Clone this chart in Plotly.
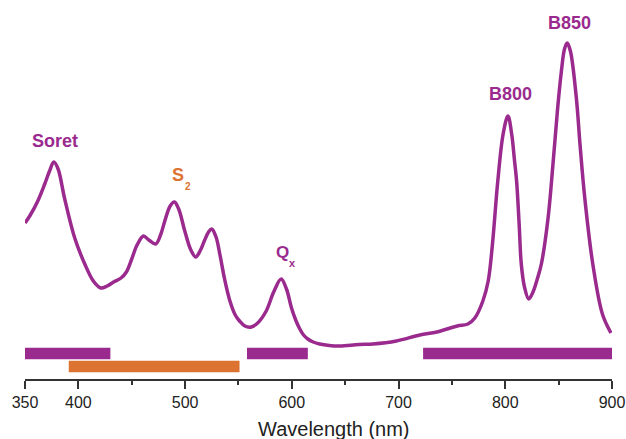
import plotly.graph_objects as go

# Absorption spectrum (wavelength nm, absorbance a.u.)
wavelength = [350, 355, 362, 368.5, 373, 377, 381, 387, 396.6, 406, 414, 421, 427, 433, 440,
              445, 450, 455, 461, 466, 472.5, 477, 481, 486, 490, 494, 499.7, 505, 510, 514,
              518, 522, 525, 529, 532.5, 537, 542, 547, 551, 556, 562, 568, 576, 583, 590,
              595, 599.7, 604, 607.5, 611, 615, 620, 626, 635, 645, 663, 676, 698, 720, 736,
              755, 765, 771.5, 779, 784, 788, 793, 798, 802.5, 806, 808.5, 810.6, 813, 815,
              818, 822, 826, 830, 833.8, 840, 844.7, 849, 852.6, 855.5, 858, 861, 866.6, 870,
              874.5, 882, 891, 899]
absorbance = [1.56, 1.64, 1.78, 1.95, 2.08, 2.17, 2.10, 1.81, 1.41, 1.15, 0.98, 0.91, 0.93, 0.97, 1.01,
              1.07, 1.20, 1.34, 1.43, 1.39, 1.35, 1.44, 1.58, 1.73, 1.77, 1.70, 1.48, 1.30, 1.22, 1.28,
              1.38, 1.47, 1.50, 1.42, 1.25, 1.00, 0.78, 0.64, 0.58, 0.53, 0.52, 0.56, 0.68, 0.87, 1.00,
              0.90, 0.71, 0.58, 0.50, 0.44, 0.40, 0.37, 0.35, 0.335, 0.33, 0.345, 0.35, 0.38, 0.44, 0.47,
              0.53, 0.55, 0.61, 0.78, 0.98, 1.35, 1.98, 2.45, 2.63, 2.45, 2.20, 1.98, 1.55, 1.15,
              0.92, 0.80, 0.87, 1.00, 1.15, 1.60, 2.15, 2.70, 3.08, 3.30, 3.36, 3.28, 2.81, 2.35,
              1.81, 1.15, 0.65, 0.46]

# Excitation ranges (nm)
purple_start = [350, 558, 723]
purple_end = [430, 615, 900]
orange_start = [391]
orange_end = [551]

tick_vals = [350, 400, 500, 600, 700, 800, 900]
x_title = "Wavelength (nm)"

PURPLE = "#9A2A8E"
ORANGE = "#DD7330"

fig = go.Figure()
fig.add_trace(go.Scatter(x=wavelength, y=absorbance, mode="lines",
                         line=dict(color=PURPLE, width=3.5, shape="spline", smoothing=1.0),
                         hoverinfo="skip"))
fig.add_trace(go.Bar(orientation="h",
                     base=purple_start,
                     x=[e - s for s, e in zip(purple_start, purple_end)],
                     y=[0.255] * len(purple_start), width=0.115,
                     marker=dict(color=PURPLE, line=dict(width=0))))
fig.add_trace(go.Bar(orientation="h",
                     base=orange_start,
                     x=[e - s for s, e in zip(orange_start, orange_end)],
                     y=[0.125] * len(orange_start), width=0.115,
                     marker=dict(color=ORANGE, line=dict(width=0))))

font_main = "Liberation Sans, Arial, sans-serif"
labels = [
    ("<b>Soret</b>", 378.1, 2.377, PURPLE, 18),
    ("<b>S</b>", 493.1, 2.04, ORANGE, 18),
    ("<b>2</b>", 502.9, 1.93, ORANGE, 10),
    ("<b>Q</b>", 591.2, 1.263, PURPLE, 17),
    ("<b>x</b>", 600.6, 1.163, PURPLE, 11),
    ("<b>B800</b>", 804.7, 2.85, PURPLE, 18),
    ("<b>B850</b>", 859.8, 3.563, PURPLE, 18),
]
for txt, xv, yv, col, sz in labels:
    fig.add_annotation(x=xv, y=yv, text=txt, showarrow=False, xanchor="center", yanchor="middle",
                       font=dict(family=font_main, size=sz, color=col))

# axis title (slightly right of centre, as in the original)
fig.add_annotation(xref="paper", yref="paper", x=0.527, y=-0.131, text=x_title, showarrow=False,
                   xanchor="center", yanchor="middle",
                   font=dict(family=font_main, size=20, color="#222"))

fig.update_layout(
    width=626, height=439,
    margin=dict(l=25, r=14, t=0, b=60),
    paper_bgcolor="white", plot_bgcolor="white",
    showlegend=False, barmode="overlay",
    xaxis=dict(range=[350, 900], tickvals=tick_vals, ticks="outside", ticklen=8, tickwidth=1.5,
               tickcolor="#333", showline=True, linecolor="#333", linewidth=1.5,
               showgrid=False, zeroline=False,
               minor=dict(tickvals=[450, 550, 650, 750, 850], ticks="outside", ticklen=4,
                          tickwidth=1.5, tickcolor="#333", showgrid=False),
               tickfont=dict(family=font_main, size=16, color="#222")),
    yaxis=dict(range=[0, 3.79], visible=False, showgrid=False, zeroline=False),
)

fig.write_html("out.html")
